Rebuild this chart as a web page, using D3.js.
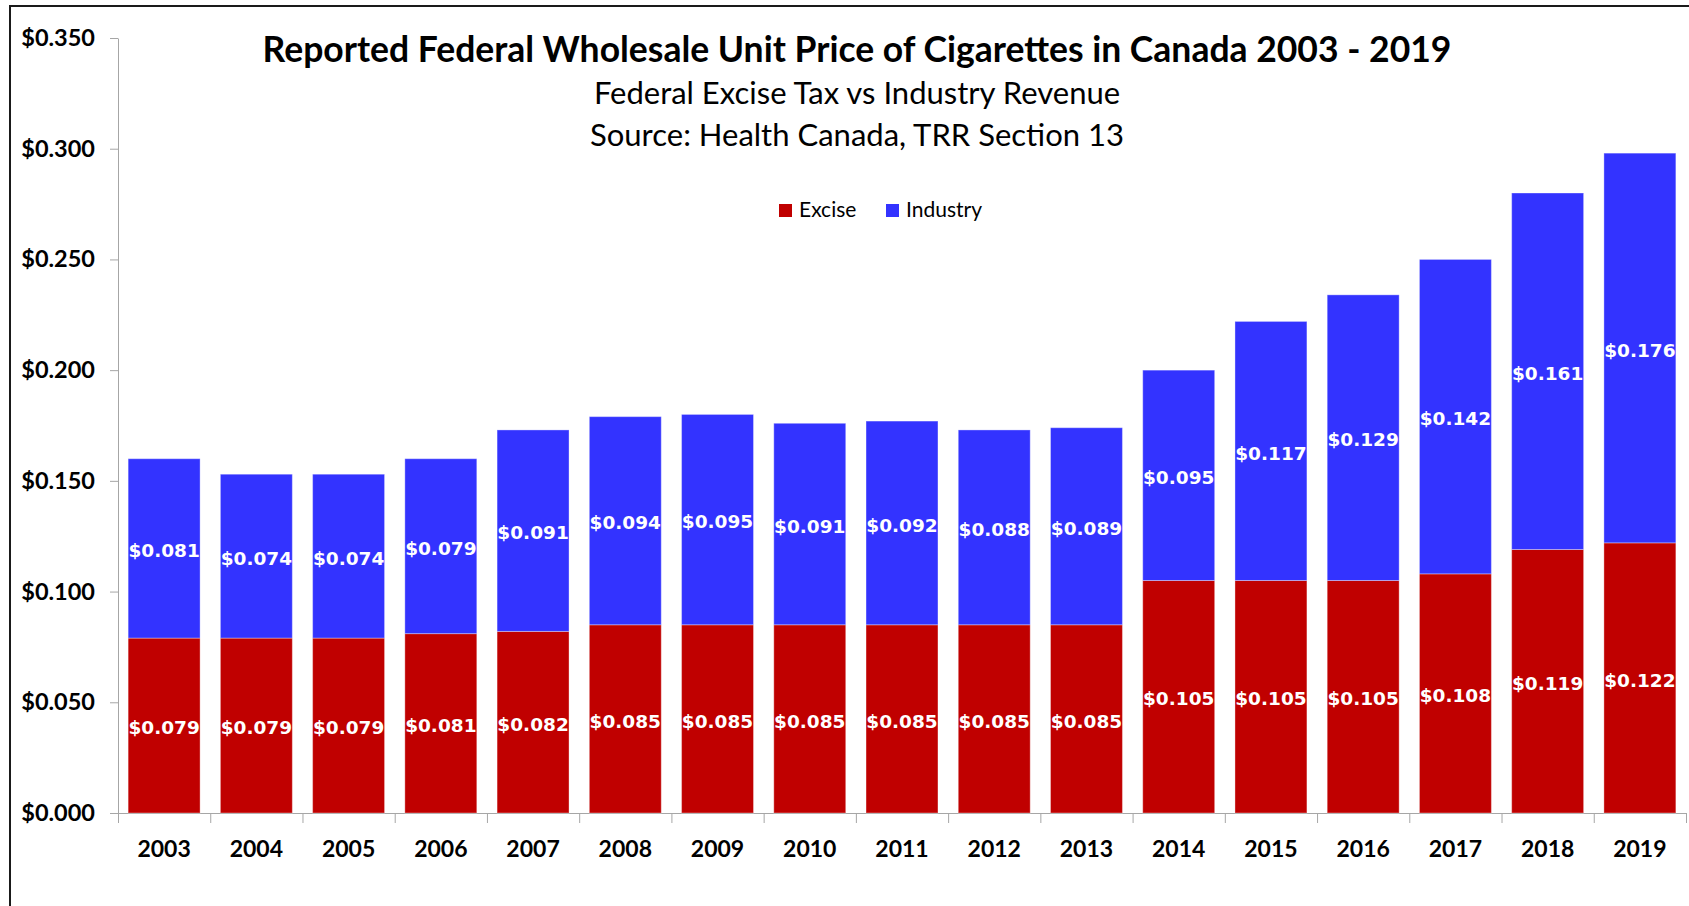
<!DOCTYPE html>
<html>
<head>
<meta charset="utf-8">
<script src="https://cdn.jsdelivr.net/npm/d3@7"></script>
<style>
  body { margin: 0; background: #fff; }
  text { font-family: Lato, "Open Sans", sans-serif; }
  .tick line, .domain { stroke: #a6a6a6; }
</style>
</head>
<body>
<svg width="1689" height="906"></svg>
<script>
// values
const years = ['2003','2004','2005','2006','2007','2008','2009','2010','2011','2012','2013','2014','2015','2016','2017','2018','2019'];
const excise = [0.079,0.079,0.079,0.081,0.082,0.085,0.085,0.085,0.085,0.085,0.085,0.105,0.105,0.105,0.108,0.119,0.122];
const industry = [0.081,0.074,0.074,0.079,0.091,0.094,0.095,0.091,0.092,0.088,0.089,0.095,0.117,0.129,0.142,0.161,0.176];
const yTicks = [0, 0.05, 0.1, 0.15, 0.2, 0.25, 0.3, 0.35];
const seriesNames = ['Excise', 'Industry'];
const colors = ['#c00000', '#3333ff'];

const svg = d3.select('svg');
const width = +svg.attr('width');
const height = +svg.attr('height');

// chart frame (cut off on the right and bottom in the original)
svg.append('rect')
  .attr('x', 10).attr('y', 6)
  .attr('width', width).attr('height', height)
  .attr('fill', 'none')
  .attr('stroke', '#1a1a1a')
  .attr('stroke-width', 2);

const plot = { left: 118, right: 1686, top: 38, bottom: 813 };

const x = d3.scaleBand()
  .domain(years)
  .range([plot.left, plot.right])
  .paddingInner(0.22)
  .paddingOuter(0.11);

const y = d3.scaleLinear()
  .domain([0, 0.35])
  .range([plot.bottom, plot.top]);

const rows = years.map((yr, i) => ({ year: yr, Excise: excise[i], Industry: industry[i] }));
const stacked = d3.stack().keys(seriesNames)(rows);

// y axis
const yAxisG = svg.append('g')
  .attr('transform', `translate(${plot.left},0)`)
  .call(d3.axisLeft(y)
    .tickValues(yTicks)
    .tickSize(8)
    .tickSizeOuter(0)
    .tickPadding(15)
    .tickFormat(d3.format('$.3f')));
yAxisG.selectAll('text')
  .attr('font-size', 23.5)
  .attr('font-weight', 'bold')
  .attr('fill', '#000');

// x axis: tick marks sit between the categories like in Excel
const xEdges = d3.scaleLinear().domain([0, years.length]).range([plot.left, plot.right]);
svg.append('g')
  .attr('transform', `translate(0,${plot.bottom})`)
  .call(d3.axisBottom(xEdges)
    .ticks(years.length)
    .tickSize(10)
    .tickSizeOuter(0)
    .tickFormat(''));

const xAxisG = svg.append('g')
  .attr('transform', `translate(0,${plot.bottom})`)
  .call(d3.axisBottom(x).tickSize(0).tickPadding(28));
xAxisG.select('.domain').remove();
xAxisG.selectAll('text')
  .attr('font-size', 23)
  .attr('font-weight', 'bold')
  .attr('fill', '#000');

// bars
const layers = svg.append('g').selectAll('g')
  .data(stacked)
  .join('g')
    .attr('fill', (d, i) => colors[i]);

layers.selectAll('rect')
  .data(d => d)
  .join('rect')
    .attr('x', d => x(d.data.year))
    .attr('y', d => y(d[1]))
    .attr('width', x.bandwidth())
    .attr('height', d => y(d[0]) - y(d[1]))
    .attr('stroke', 'rgba(255,255,255,0.35)')
    .attr('stroke-width', 1);

// value labels in the middle of each segment
layers.selectAll('text')
  .data(d => d)
  .join('text')
    .attr('x', d => x(d.data.year) + x.bandwidth() / 2)
    .attr('y', d => y((d[0] + d[1]) / 2) + 2)
    .attr('dy', '0.36em')
    .attr('text-anchor', 'middle')
    .style('font-family', '"DejaVu Sans", Verdana, sans-serif')
    .attr('font-size', 18.5)
    .attr('font-weight', 'bold')
    .attr('fill', '#fff')
    .text(d => d3.format('$.3f')(d[1] - d[0]));

// titles
const cx = 857;
svg.append('text')
  .attr('x', cx).attr('y', 62)
  .attr('text-anchor', 'middle')
  .attr('font-size', 35.5)
  .attr('font-weight', 'bold')
  .text('Reported Federal Wholesale Unit Price of Cigarettes in Canada 2003 - 2019');
svg.append('text')
  .attr('x', cx).attr('y', 104)
  .attr('text-anchor', 'middle')
  .attr('font-size', 31)
  .text('Federal Excise Tax vs Industry Revenue');
svg.append('text')
  .attr('x', cx).attr('y', 146)
  .attr('text-anchor', 'middle')
  .attr('font-size', 31)
  .text('Source: Health Canada, TRR Section 13');

// legend
const legendX = [779, 886];
const legend = svg.append('g').selectAll('g')
  .data(seriesNames)
  .join('g')
    .attr('transform', (d, i) => `translate(${legendX[i]},204)`);
legend.append('rect')
  .attr('width', 13).attr('height', 13)
  .attr('fill', (d, i) => colors[i]);
legend.append('text')
  .attr('x', 20).attr('y', 13)
  .attr('font-size', 21)
  .attr('fill', '#000')
  .text(d => d);
</script>
</body>
</html>
